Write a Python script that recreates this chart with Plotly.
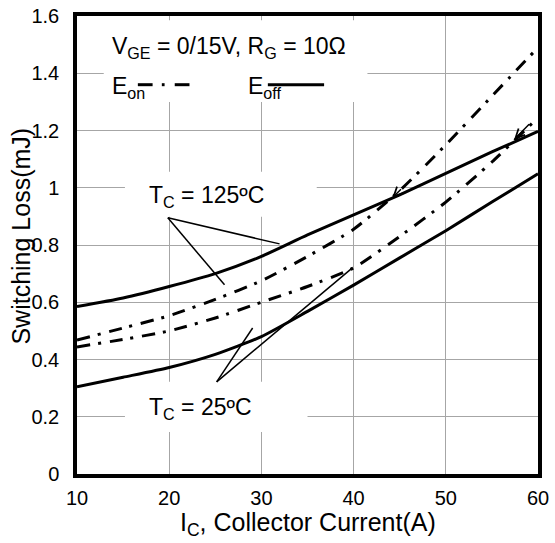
import plotly.graph_objects as go

# ---- data ----
current = [10, 15, 20, 25, 30, 35, 40, 45, 50, 55, 60]
eoff_125 = [0.585, 0.615, 0.655, 0.700, 0.760, 0.835, 0.905, 0.975, 1.050, 1.125, 1.197]
eoff_25 = [0.305, 0.338, 0.372, 0.418, 0.480, 0.568, 0.660, 0.755, 0.850, 0.950, 1.049]
eon_125 = [0.468, 0.510, 0.553, 0.610, 0.675, 0.760, 0.855, 0.990, 1.150, 1.320, 1.490]
eon_25 = [0.444, 0.470, 0.500, 0.545, 0.600, 0.655, 0.720, 0.830, 0.950, 1.090, 1.245]

x_ticks = [10, 20, 30, 40, 50, 60]
y_ticks = [0, 0.2, 0.4, 0.6, 0.8, 1.0, 1.2, 1.4, 1.6]

title_text = "V<sub>GE</sub> = 0/15V, R<sub>G</sub> = 10Ω"
label_125 = "T<sub>C</sub> = 125ºC"
label_25 = "T<sub>C</sub> = 25ºC"
x_title = "I<sub>C</sub>, Collector Current(A)"
y_title = "Switching Loss(mJ)"

FONT = "Liberation Sans, Arial, sans-serif"
DASHDOT = "13px,8px,3px,9px"

fig = go.Figure()
for ys, dash in [(eoff_125, "solid"), (eoff_25, "solid"), (eon_125, DASHDOT), (eon_25, DASHDOT)]:
    fig.add_trace(go.Scatter(x=current, y=ys, mode="lines",
                             line=dict(color="black", width=3, dash=dash, shape="spline", smoothing=0.6),
                             showlegend=False, hoverinfo="skip"))

shapes = []
# white boxes that interrupt the grid behind the text
for x0, x1, y0, y1 in [(12.9, 41.5, 1.30, 1.585), (15.2, 36.0, 0.899, 1.056), (15.2, 35.0, 0.147, 0.322)]:
    shapes.append(dict(type="rect", xref="x", yref="y", x0=x0, x1=x1, y0=y0, y1=y1,
                       fillcolor="white", line=dict(width=0), layer="between"))
# pointer lines
for (xa, ya), (xb, yb) in [((19.85, 0.895), (31.97, 0.804)), ((19.85, 0.895), (26.0, 0.661)),
                           ((25.15, 0.322), (29.05, 0.51)), ((25.15, 0.322), (39.87, 0.72))]:
    shapes.append(dict(type="line", xref="x", yref="y", x0=xa, y0=ya, x1=xb, y1=yb,
                       line=dict(color="black", width=1.5), layer="above"))
# legend samples
for x0, x1 in [(16.6, 18.2), (19.2, 19.5), (20.6, 22.2)]:
    shapes.append(dict(type="line", xref="x", yref="y", x0=x0, x1=x1, y0=1.36, y1=1.36,
                       line=dict(color="black", width=3)))
shapes.append(dict(type="line", xref="x", yref="y", x0=30.7, x1=36.8, y0=1.36, y1=1.36,
                   line=dict(color="black", width=3)))

annotations = [
    dict(text=title_text, x=13.6, y=1.49, xref="x", yref="y", xanchor="left", yanchor="middle",
         showarrow=False, font=dict(size=23, family=FONT, color="black")),
    dict(text="E<sub>on</sub>", x=13.6, y=1.35, xref="x", yref="y", xanchor="left", yanchor="middle",
         showarrow=False, font=dict(size=23, family=FONT, color="black")),
    dict(text="E<sub>off</sub>", x=28.3, y=1.35, xref="x", yref="y", xanchor="left", yanchor="middle",
         showarrow=False, font=dict(size=23, family=FONT, color="black")),
    dict(text=label_125, x=17.6, y=0.97, xref="x", yref="y", xanchor="left", yanchor="middle",
         showarrow=False, font=dict(size=23, family=FONT, color="black")),
    dict(text=label_25, x=17.6, y=0.23, xref="x", yref="y", xanchor="left", yanchor="middle",
         showarrow=False, font=dict(size=23, family=FONT, color="black")),
    dict(text=x_title, x=0.5, y=-0.11, xref="paper", yref="paper", xanchor="center", yanchor="middle",
         showarrow=False, font=dict(size=25, family=FONT, color="black")),
    dict(text=y_title, x=-0.122, y=0.52, xref="paper", yref="paper", xanchor="center", yanchor="middle",
         textangle=-90, showarrow=False, font=dict(size=25, family=FONT, color="black")),
    # small arrowheads on the upper solid curve
    dict(text="", x=44.2, y=0.965, ax=45.3, ay=1.0, xref="x", yref="y", axref="x", ayref="y",
         showarrow=True, arrowhead=5, arrowsize=1.2, arrowwidth=1.5, arrowcolor="black"),
    dict(text="", x=57.4, y=1.168, ax=59.2, ay=1.227, xref="x", yref="y", axref="x", ayref="y",
         showarrow=True, arrowhead=5, arrowsize=1.2, arrowwidth=1.5, arrowcolor="black"),
]

axis_common = dict(showgrid=True, gridcolor="#a6a6a6", gridwidth=1, zeroline=False,
                   showline=True, linecolor="black", linewidth=3.5, mirror=True,
                   ticks="outside", tickcolor="rgba(0,0,0,0)", automargin=False,
                   tickfont=dict(size=20, family=FONT, color="black"))

fig.update_layout(
    width=555, height=543,
    margin=dict(l=77, r=17, t=16, b=69),
    paper_bgcolor="white", plot_bgcolor="white",
    xaxis=dict(range=[10, 60], tickvals=x_ticks, ticklen=3, **axis_common),
    yaxis=dict(range=[0, 1.6], tickvals=y_ticks, ticklen=10, **axis_common),
    shapes=shapes, annotations=annotations,
)

fig.write_html("out.html", config={"displayModeBar": False},
               post_script="document.body.style.margin='0';document.body.style.overflow='hidden';")
